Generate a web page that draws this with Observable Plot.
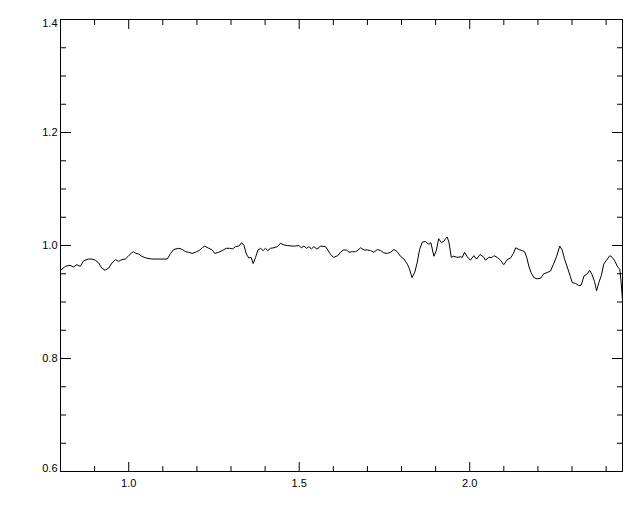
<!DOCTYPE html>
<html>
<head>
<meta charset="utf-8">
<script src="https://cdn.jsdelivr.net/npm/d3@7"></script>
<script src="https://cdn.jsdelivr.net/npm/@observablehq/plot@0.6"></script>
<style>
  html, body { margin: 0; padding: 0; background: #fff; }
  #chart svg { display: block; }
</style>
</head>
<body>
<div id="chart"></div>
<script>
// Wavelength samples (x) and relative values (y)
const wavelength = [
  0.800,0.814,0.828,0.838,0.848,0.858,0.868,0.882,0.892,0.902,0.912,0.921,0.931,0.941,0.951,0.961,0.970,0.980,0.990,1.000,
  1.009,1.014,1.021,1.029,1.038,1.050,1.068,1.085,1.113,1.123,1.132,1.147,1.157,1.167,1.176,1.186,1.196,1.206,1.216,1.223,
  1.235,1.245,1.252,1.264,1.274,1.286,1.296,1.305,1.313,1.323,1.331,1.338,1.345,1.352,1.359,1.365,1.372,1.379,1.387,1.394,
  1.401,1.408,1.416,1.426,1.436,1.445,1.455,1.465,1.479,1.489,1.499,1.506,1.514,1.522,1.528,1.536,1.543,1.551,1.558,1.562,
  1.577,1.584,1.592,1.601,1.613,1.621,1.629,1.639,1.646,1.656,1.665,1.673,1.680,1.690,1.700,1.709,1.719,1.729,1.739,1.748,
  1.758,1.768,1.778,1.787,1.797,1.807,1.817,1.823,1.831,1.839,1.846,1.853,1.861,1.870,1.880,1.886,1.895,1.902,1.909,1.917,
  1.925,1.928,1.934,1.939,1.946,1.953,1.963,1.973,1.978,1.985,1.993,2.002,2.012,2.020,2.030,2.040,2.046,2.056,2.066,2.071,
  2.081,2.090,2.100,2.110,2.120,2.128,2.135,2.144,2.154,2.161,2.167,2.174,2.180,2.188,2.198,2.208,2.217,2.227,2.237,2.245,
  2.255,2.264,2.271,2.278,2.286,2.294,2.301,2.310,2.320,2.327,2.335,2.343,2.352,2.359,2.366,2.372,2.379,2.386,2.393,2.401,
  2.411,2.418,2.425,2.434,2.440,2.444,2.448
];
const ratio = [
  0.956,0.963,0.965,0.962,0.966,0.963,0.973,0.976,0.976,0.974,0.969,0.960,0.956,0.960,0.969,0.975,0.972,0.975,0.976,0.982,
  0.987,0.989,0.986,0.985,0.981,0.978,0.976,0.976,0.976,0.986,0.993,0.995,0.993,0.989,0.988,0.986,0.988,0.991,0.996,0.999,
  0.995,0.992,0.986,0.988,0.991,0.995,0.995,0.994,0.998,0.999,1.005,1.000,0.985,0.978,0.979,0.968,0.979,0.992,0.995,0.991,
  0.995,0.991,0.995,0.996,0.998,1.004,1.001,1.000,0.999,0.999,1.000,0.996,0.999,0.995,0.998,0.994,0.998,0.994,0.996,0.999,
  0.998,0.992,0.984,0.979,0.982,0.988,0.992,0.992,0.988,0.989,0.989,0.992,0.996,0.992,0.992,0.991,0.988,0.993,0.991,0.987,
  0.986,0.988,0.993,0.989,0.981,0.976,0.967,0.959,0.943,0.953,0.970,0.993,1.006,1.007,1.002,1.005,0.981,0.991,1.012,1.005,
  1.008,1.011,1.015,1.006,0.979,0.981,0.979,0.980,0.979,0.988,0.980,0.974,0.982,0.976,0.984,0.980,0.974,0.979,0.979,0.982,
  0.979,0.974,0.966,0.975,0.978,0.986,0.996,0.993,0.991,0.989,0.979,0.962,0.952,0.943,0.941,0.942,0.950,0.952,0.955,0.966,
  0.981,0.999,0.992,0.976,0.962,0.947,0.934,0.933,0.929,0.930,0.946,0.949,0.956,0.948,0.936,0.920,0.935,0.947,0.967,0.974,
  0.982,0.979,0.973,0.962,0.958,0.935,0.904
];

const xDomain = [0.8, 2.448];
const yDomain = [0.6, 1.4];
const xMajor = [1.0, 1.5, 2.0];
const xMinor = [0.9, 1.1, 1.2, 1.3, 1.4, 1.6, 1.7, 1.8, 1.9, 2.1, 2.2, 2.3, 2.4];
const yMajor = [0.6, 0.8, 1.0, 1.2, 1.4];
const yMinor = [0.65, 0.7, 0.75, 0.85, 0.9, 0.95, 1.05, 1.1, 1.15, 1.25, 1.3, 1.35];
const yLabelsMid = [0.8, 1.0, 1.2];

const data = wavelength.map((w, i) => ({w, r: ratio[i]}));
const fmt = d3.format(".1f");
const blank = () => "";

const chart = Plot.plot({
  width: 640,
  height: 512,
  marginLeft: 60,
  marginRight: 18,
  marginTop: 19,
  marginBottom: 41,
  style: {fontFamily: "'Liberation Sans', Arial, sans-serif", fontSize: "11px", color: "#000", background: "#fff"},
  x: {domain: xDomain},
  y: {domain: yDomain},
  marks: [
    Plot.frame({stroke: "#000", strokeWidth: 1}),
    // inward ticks on all four sides
    Plot.axisX(xMajor, {anchor: "bottom", tickSize: -9, tickFormat: blank, label: null}),
    Plot.axisX(xMinor, {anchor: "bottom", tickSize: -5, tickFormat: blank, label: null}),
    Plot.axisX(xMajor, {anchor: "top", tickSize: -9, tickFormat: blank, label: null}),
    Plot.axisX(xMinor, {anchor: "top", tickSize: -5, tickFormat: blank, label: null}),
    Plot.axisY(yMajor, {anchor: "left", tickSize: -11, tickFormat: blank, label: null}),
    Plot.axisY(yMinor, {anchor: "left", tickSize: -6, tickFormat: blank, label: null}),
    Plot.axisY(yMajor, {anchor: "right", tickSize: -11, tickFormat: blank, label: null}),
    Plot.axisY(yMinor, {anchor: "right", tickSize: -6, tickFormat: blank, label: null}),
    // labels
    Plot.axisX(xMajor, {anchor: "bottom", tickSize: 0, tickPadding: 8, tickFormat: fmt, label: null}),
    Plot.axisY(yLabelsMid, {anchor: "left", tickSize: 0, tickPadding: 3, tickFormat: fmt, label: null}),
    Plot.axisY([1.4], {anchor: "left", tickSize: 0, tickPadding: 3, tickFormat: fmt, label: null, dy: 4}),
    Plot.axisY([0.6], {anchor: "left", tickSize: 0, tickPadding: 3, tickFormat: fmt, label: null, dy: -3}),
    Plot.line(data, {x: "w", y: "r", stroke: "#000", strokeWidth: 1})
  ]
});
document.getElementById("chart").appendChild(chart);
</script>
</body>
</html>
